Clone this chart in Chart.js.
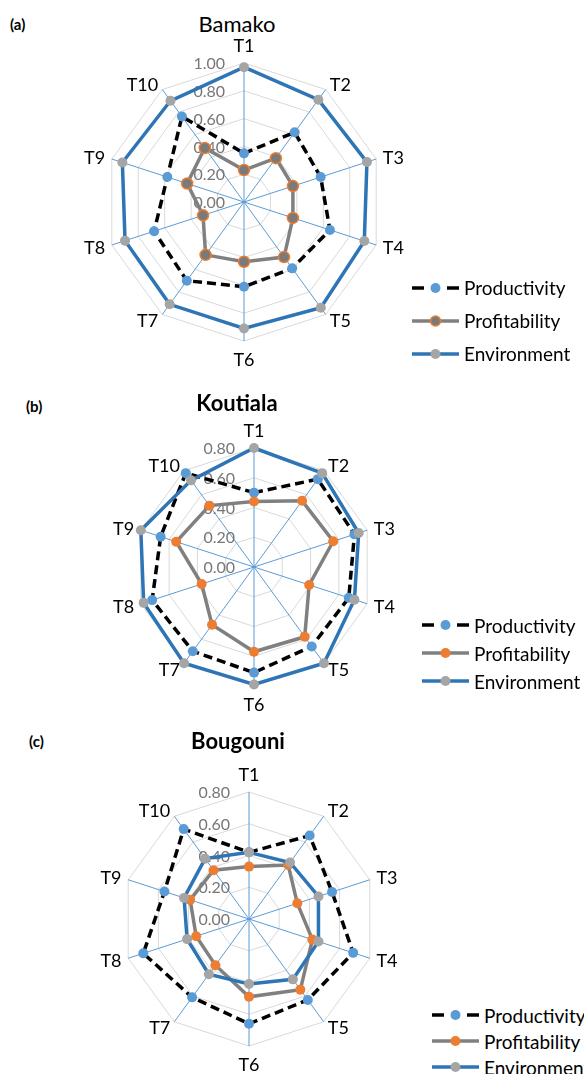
<!DOCTYPE html>
<html lang="en">
<head>
<meta charset="UTF-8">
<title>Productivity, profitability and environment scores</title>
<script src="https://cdn.jsdelivr.net/npm/chart.js@4"></script>
<style>
  body {
    margin: 0;
    width: 584px;
    height: 1074px;
    position: relative;
    overflow: hidden;
    background: #fff;
    font-family: Lato, "Liberation Sans", sans-serif;
    color: #000;
  }
  canvas { position: absolute; }
  .tag, .title {
    position: absolute;
    line-height: 1;
    white-space: nowrap;
    transform: translateY(-50%);
  }
  .tag { font-size: 15px; font-weight: bold; }
  .title { font-size: 22px; transform: translate(-50%, -50%); }
  .title.bold { font-weight: bold; }
  .legend { position: absolute; }
  .legend .row {
    display: flex;
    align-items: center;
    font-size: 19px;
    white-space: nowrap;
  }
  .legend svg { margin-right: 5px; flex: none; }
</style>
</head>
<body>
  <div class="tag" style="left:10px; top:24px;">(a)</div>
  <div class="title" style="left:237px; top:24px;">Bamako</div>
  <canvas id="bamako"></canvas>
  <div class="legend" id="legend-bamako" style="left:412px; top:271px;"></div>

  <div class="tag" style="left:26px; top:406px;">(b)</div>
  <div class="title bold" style="left:237px; top:403px;">Koutiala</div>
  <canvas id="koutiala"></canvas>
  <div class="legend" id="legend-koutiala" style="left:422px; top:611px;"></div>

  <div class="tag" style="left:29px; top:741px;">(c)</div>
  <div class="title bold" style="left:238px; top:741px;">Bougouni</div>
  <canvas id="bougouni"></canvas>
  <div class="legend" id="legend-bougouni" style="left:432px; top:1002px;"></div>

<script>
const treatments = ['T1', 'T2', 'T3', 'T4', 'T5', 'T6', 'T7', 'T8', 'T9', 'T10'];
const seriesNames = ['Productivity', 'Profitability', 'Environment'];

const bamakoProductivity = [0.35, 0.62, 0.58, 0.65, 0.59, 0.61, 0.70, 0.68, 0.58, 0.76];
const bamakoProfitability = [0.23, 0.39, 0.37, 0.37, 0.49, 0.43, 0.47, 0.31, 0.43, 0.48];
const bamakoEnvironment = [0.97, 0.91, 0.93, 0.91, 0.94, 0.91, 0.91, 0.90, 0.92, 0.90];

const koutialaProductivity = [0.50, 0.73, 0.71, 0.67, 0.66, 0.71, 0.70, 0.72, 0.66, 0.78];
const koutialaProfitability = [0.44, 0.55, 0.56, 0.39, 0.58, 0.57, 0.48, 0.37, 0.55, 0.51];
const koutialaEnvironment = [0.80, 0.78, 0.74, 0.71, 0.80, 0.79, 0.80, 0.78, 0.80, 0.72];

const bougouniProductivity = [0.42, 0.65, 0.55, 0.69, 0.63, 0.66, 0.61, 0.70, 0.56, 0.70];
const bougouniProfitability = [0.33, 0.42, 0.32, 0.42, 0.55, 0.49, 0.36, 0.35, 0.39, 0.38];
const bougouniEnvironment = [0.42, 0.44, 0.46, 0.46, 0.47, 0.41, 0.43, 0.41, 0.43, 0.47];

const BLUE_DOT = '#5b9bd5';
const ORANGE = '#ed7d31';
const GREY_LINE = '#808080';
const GREY_DOT = '#a5a5a5';
const ENV_BLUE = '#2e75b6';
const FONT = 'Lato, "Liberation Sans", sans-serif';

// value labels sit to the left of the T1 spoke, right aligned, under the lines;
// T labels are centred vertically on their spoke (side ones) or above/below it
const radarText = {
    id: 'radarText',
    beforeDatasetsDraw(chart) {
        const r = chart.scales.r;
        const ctx = chart.ctx;
        ctx.save();
        ctx.font = '16px ' + FONT;
        ctx.fillStyle = '#777';
        ctx.textAlign = 'right';
        ctx.textBaseline = 'middle';
        r.ticks.forEach(t => {
            const y = r.yCenter - r.getDistanceFromCenterForValue(t.value);
            ctx.fillText(t.value.toFixed(2), r.xCenter - 19, y + 1);
        });

        ctx.font = '18px ' + FONT;
        ctx.fillStyle = '#000';
        chart.data.labels.forEach((label, i) => {
            const angle = r.getIndexAngle(i);
            const sin = Math.sin(angle);
            if (Math.abs(sin) < 0.01) {
                const p = r.getPointPosition(i, r.drawingArea + 18);
                ctx.textAlign = 'center';
                ctx.fillText(label, p.x, p.y + 1);
            } else {
                const p = r.getPointPosition(i, r.drawingArea + 7);
                ctx.textAlign = sin > 0 ? 'left' : 'right';
                ctx.fillText(label, p.x, p.y + 1);
            }
        });
        ctx.restore();
    }
};

function drawRadar(id, cx, cy, radius, maxValue, prod, prof, env, outlinedProfit) {
    const pad = 50;
    const canvas = document.getElementById(id);
    canvas.width = 2 * (radius + pad);
    canvas.height = 2 * (radius + pad);
    canvas.style.left = (cx - radius - pad) + 'px';
    canvas.style.top = (cy - radius - pad) + 'px';

    new Chart(canvas, {
        type: 'radar',
        data: {
            labels: treatments,
            datasets: [
                {
                    label: seriesNames[0],
                    data: prod,
                    borderColor: '#000',
                    borderWidth: 3.5,
                    borderDash: [9, 5],
                    pointBackgroundColor: BLUE_DOT,
                    pointBorderColor: BLUE_DOT,
                    pointBorderWidth: 0,
                    pointRadius: 5,
                    fill: false,
                    order: 2
                },
                {
                    label: seriesNames[1],
                    data: prof,
                    borderColor: GREY_LINE,
                    borderWidth: 3.5,
                    pointBackgroundColor: outlinedProfit ? '#7a7a7a' : ORANGE,
                    pointBorderColor: ORANGE,
                    pointBorderWidth: outlinedProfit ? 1.5 : 0,
                    pointRadius: outlinedProfit ? 5.5 : 5,
                    fill: false,
                    order: 1
                },
                {
                    label: seriesNames[2],
                    data: env,
                    borderColor: ENV_BLUE,
                    borderWidth: 3.5,
                    pointBackgroundColor: GREY_DOT,
                    pointBorderColor: GREY_DOT,
                    pointBorderWidth: 0,
                    pointRadius: 5,
                    fill: false,
                    order: 0
                }
            ]
        },
        options: {
            responsive: false,
            animation: false,
            elements: { line: { tension: 0 } },
            layout: { padding: pad },
            plugins: {
                legend: { display: false },
                title: { display: false },
                tooltip: { enabled: false }
            },
            scales: {
                r: {
                    min: 0,
                    max: maxValue,
                    ticks: { stepSize: 0.2, display: false, showLabelBackdrop: false },
                    grid: { color: '#d9d9d9', lineWidth: 1 },
                    angleLines: { color: BLUE_DOT, lineWidth: 1 },
                    pointLabels: { display: false }
                }
            }
        },
        plugins: [radarText]
    });
}

function buildLegend(id, rowHeight, outlinedProfit) {
    const box = document.getElementById(id);
    const markers = [
        '<line x1="0" y1="7" x2="12" y2="7" stroke="#000" stroke-width="3.5"/>' +
        '<line x1="35" y1="7" x2="47" y2="7" stroke="#000" stroke-width="3.5"/>' +
        `<circle cx="23.5" cy="7" r="5" fill="${BLUE_DOT}"/>`,
        `<line x1="0" y1="7" x2="47" y2="7" stroke="${GREY_LINE}" stroke-width="3.5"/>` +
        (outlinedProfit
            ? `<circle cx="23.5" cy="7" r="5" fill="#7a7a7a" stroke="${ORANGE}" stroke-width="1.5"/>`
            : `<circle cx="23.5" cy="7" r="5" fill="${ORANGE}"/>`),
        `<line x1="0" y1="7" x2="47" y2="7" stroke="${ENV_BLUE}" stroke-width="3.5"/>` +
        `<circle cx="23.5" cy="7" r="5" fill="${GREY_DOT}"/>`
    ];
    seriesNames.forEach((name, i) => {
        const row = document.createElement('div');
        row.className = 'row';
        row.style.height = rowHeight + 'px';
        row.innerHTML = `<svg width="47" height="14">${markers[i]}</svg><span>${name}</span>`;
        box.appendChild(row);
    });
}

drawRadar('bamako', 244, 202, 139, 1.0, bamakoProductivity, bamakoProfitability, bamakoEnvironment, true);
drawRadar('koutiala', 254, 567, 119, 0.8, koutialaProductivity, koutialaProfitability, koutialaEnvironment, false);
drawRadar('bougouni', 249, 919, 127, 0.8, bougouniProductivity, bougouniProfitability, bougouniEnvironment, false);

buildLegend('legend-bamako', 33, true);
buildLegend('legend-koutiala', 28, false);
buildLegend('legend-bougouni', 26, false);
</script>
</body>
</html>
